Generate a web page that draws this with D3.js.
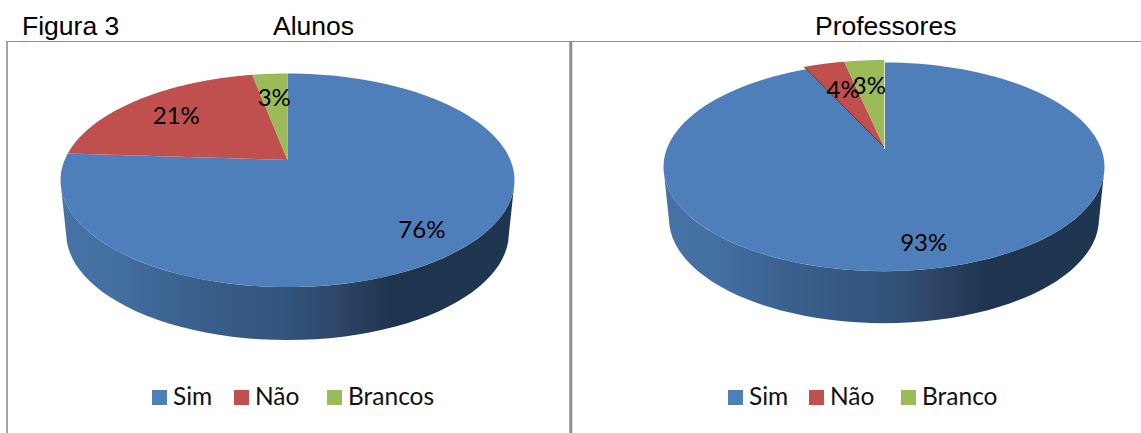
<!DOCTYPE html>
<html><head><meta charset="utf-8">
<script src="https://cdn.jsdelivr.net/npm/d3@7"></script>
<style>html,body{margin:0;padding:0;background:#fff;overflow:hidden}svg{display:block}</style>
</head><body>
<svg id="c" width="1141" height="433"></svg>
<script>
const categoriesAlunos = ["Sim", "Não", "Brancos"];
const valuesAlunos = [76, 21, 3];
const categoriesProfessores = ["Sim", "Não", "Branco"];
const valuesProfessores = [93.1, 3.5, 3.4];
const sliceColors = ["#4f7fbb", "#c0504d", "#9bbb59"];

const svg = d3.select("#c");
const color = d3.scaleOrdinal().domain([0, 1, 2]).range(sliceColors);
const K = 0.19;   // perspective strength of the tilted disc
const titleFont = "'Liberation Sans', Arial, sans-serif";
const bodyFont = "Lato, 'Open Sans', sans-serif";

// frame
svg.append("line").attr("x1", 6).attr("x2", 1141).attr("y1", 41.5).attr("y2", 41.5).attr("stroke", "#8f8f8f").attr("stroke-width", 1.2);
svg.append("line").attr("x1", 7).attr("x2", 7).attr("y1", 41).attr("y2", 433).attr("stroke", "#999").attr("stroke-width", 1.8);
svg.append("line").attr("x1", 570.8).attr("x2", 570.8).attr("y1", 41).attr("y2", 433).attr("stroke", "#8c8c8c").attr("stroke-width", 3);

const grad = svg.append("defs").append("linearGradient").attr("id", "wall").attr("x1", 0).attr("x2", 1).attr("y1", 0).attr("y2", 0);
[[0, "#4672a6"], [0.12, "#436fa1"], [0.3, "#3a5f8c"], [0.5, "#32547c"], [0.62, "#2e4466"], [0.73, "#1e344f"], [1, "#1f3650"]]
  .forEach(s => grad.append("stop").attr("offset", s[0]).attr("stop-color", s[1]));

function drawPie(cfg) {
  const { apexX, apexY, top, halfWidth, depth, values, cats } = cfg;
  const B = (apexY - top) * (1 + K);
  const A = halfWidth * Math.sqrt(1 - K * K);
  const px = d3.scaleLinear().domain([0, 1]).range([apexX, apexX + A]);
  const py = d3.scaleLinear().domain([0, 1]).range([apexY, apexY - B]);
  const proj = (a, r) => {
    const u = r * Math.sin(a), v = r * Math.cos(a), w = 1 + K * v;
    return [px(u / w), py(v / w)];
  };
  const g = svg.append("g");
  const line = d3.line();
  const arcPts = (a0, a1, r) => d3.range(0, 121).map(i => proj(a0 + (a1 - a0) * i / 120, r));

  const arcs = d3.pie().sort(null).value(d => d)(values);

  // side wall: lower half of the rim, pushed down and slightly narrowed
  const rim = arcPts(0, 2 * Math.PI, 1);
  const xs = rim.map(p => p[0]);
  const iL = xs.indexOf(d3.min(xs)), iR = xs.indexOf(d3.max(xs));
  const lower = rim.slice(iR, iL + 1);
  const wall = lower.concat(lower.slice().reverse().map(p => [apexX + (p[0] - apexX) * 0.975, p[1] + depth]));
  g.append("path").attr("d", line(wall) + "Z").attr("fill", "url(#wall)");

  g.selectAll("path.slice").data(arcs).join("path").attr("class", "slice")
    .attr("d", d => {
      const pop = d.index === 0 ? 1 : cfg.pop;
      return line([[apexX, apexY]].concat(arcPts(d.startAngle, d.endAngle, pop))) + "Z";
    })
    .attr("fill", d => color(d.index));

  if (cfg.pop > 1) {
    // raised wedges show a thin dark edge on the left and a light edge on the right
    g.append("path").attr("d", line([[apexX, apexY], proj(arcs[1].startAngle, cfg.pop)]))
      .attr("stroke", "#6e2f2d").attr("stroke-width", 1).attr("fill", "none");
    g.append("path").attr("d", line([[apexX + 0.5, apexY + 2], [apexX + 0.5, proj(0, cfg.pop)[1]]]))
      .attr("stroke", "#dfe6cf").attr("stroke-width", 1).attr("fill", "none");
  }

  g.selectAll("text.pct").data(arcs).join("text").attr("class", "pct")
    .attr("x", d => proj((d.startAngle + d.endAngle) / 2, cfg.labelR[d.index])[0] + cfg.labelOff[d.index][0])
    .attr("y", d => proj((d.startAngle + d.endAngle) / 2, cfg.labelR[d.index])[1] + cfg.labelOff[d.index][1])
    .attr("dy", "0.35em").attr("text-anchor", "middle")
    .attr("font-family", bodyFont).attr("font-size", 24).attr("fill", "#000")
    .text(d => Math.round(d.value) + "%");

  // legend
  const lx = d3.scaleOrdinal().domain([0, 1, 2]).range(cfg.legendX);
  const items = g.append("g").selectAll("g").data(cats).join("g");
  items.append("rect").attr("x", (d, i) => lx(i)).attr("y", 390).attr("width", 15).attr("height", 15)
    .attr("fill", (d, i) => color(i));
  items.append("text").attr("x", (d, i) => lx(i) + 21).attr("y", 405)
    .attr("font-family", bodyFont).attr("font-size", 24.5).attr("fill", "#111").text(d => d);
}

drawPie({ apexX: 287.5, apexY: 160, top: 73.5, halfWidth: 227, depth: 53,
  values: valuesAlunos, cats: categoriesAlunos, pop: 1,
  labelR: [0.78, 0.74, 0.72], labelOff: [[1, 4], [2, 2], [0, 3]], legendX: [152, 234, 327] });
drawPie({ apexX: 884, apexY: 147, top: 62.5, halfWidth: 220.5, depth: 52,
  values: valuesProfessores, cats: categoriesProfessores, pop: 1.035,
  labelR: [0.8, 0.72, 0.72], labelOff: [[-4, 3], [3, 3], [0, 2]], legendX: [728, 809, 901] });

// titles
const titles = [["Figura 3", 22], ["Alunos", 273], ["Professores", 815]];
svg.selectAll("text.title").data(titles).join("text").attr("class", "title")
  .attr("x", d => d[1]).attr("y", 35)
  .attr("font-family", titleFont).attr("font-size", 26.5).attr("fill", "#000").text(d => d[0]);
</script>
</body></html>
